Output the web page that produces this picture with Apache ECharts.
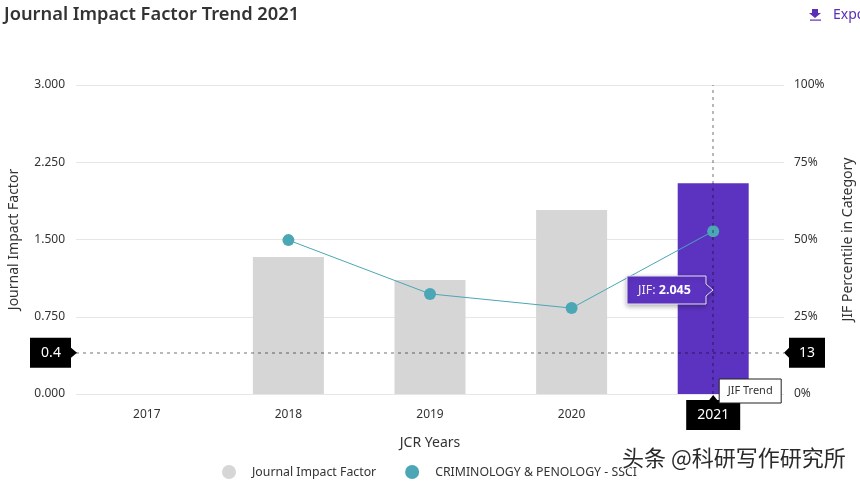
<!DOCTYPE html>
<html><head><meta charset="utf-8">
<style>html,body{margin:0;padding:0;background:#fff;overflow:hidden}#c{width:860px;height:483px}</style>
<script src="https://cdn.jsdelivr.net/npm/echarts@6/dist/echarts.min.js"></script>
</head><body><div id="c"></div>
<script>
const titleText = 'Journal Impact Factor Trend 2021';
const years = ['2017','2018','2019','2020','2021'];
const jifValues = [null,1.33,1.107,1.786,2.045];
const percentileValues = [null,49.8,32.4,27.8,52.7];
const jifTicks = ['0.000','0.750','1.500','2.250','3.000'];
const legendNames = ['Journal Impact Factor','CRIMINOLOGY & PENOLOGY - SSCI'];
const medianJif = 0.4;
const medianPercentile = 13;
const selectedYear = '2021';
const selectedJif = 2.045;
const F = '"Noto Sans", sans-serif';
const GREY='#d6d6d6', PURPLE='#5c33c0', TEAL='#4ba6b5', INK='#333';
const chart = echarts.init(document.getElementById('c'), null, {renderer:'canvas'});
const dashed = {color:'rgba(0,0,0,0.28)',type:[3,4],width:2};
chart.setOption({
  animation:false,
  textStyle:{fontFamily:F},
  title:{text:titleText,left:4,top:6,padding:0,textStyle:{fontFamily:F,fontSize:18.3,fontWeight:600,color:INK}},
  grid:{left:76,right:76,top:85,bottom:89,outerBoundsMode:'none',containLabel:false},
  legend:{
    data:legendNames.map(n=>({name:n,icon:'circle'})),
    left:222,top:465,itemWidth:14,itemHeight:14,itemGap:29,padding:0,
    textStyle:{fontFamily:F,fontSize:12.3,color:INK,padding:[0,0,0,11]}
  },
  xAxis:{type:'category',data:years,
    axisLine:{show:false},axisTick:{show:false},
    axisLabel:{color:INK,fontSize:12,margin:15},
    name:'JCR Years',nameLocation:'middle',nameGap:42,nameTextStyle:{color:INK,fontSize:14}},
  yAxis:[
    {type:'value',min:0,max:3,interval:0.75,
     axisLabel:{color:INK,fontSize:12,margin:11,padding:[4,0,0,0],formatter:v=>jifTicks[Math.round(v/0.75)]},
     axisLine:{show:false},axisTick:{show:false},
     splitLine:{lineStyle:{color:'#e6e6e6',width:1}},
     name:'Journal Impact Factor',nameLocation:'middle',nameGap:55,nameTextStyle:{color:INK,fontSize:14}},
    {type:'value',min:0,max:100,interval:25,position:'right',
     axisLabel:{color:INK,fontSize:12,margin:10,padding:[4,0,0,0],formatter:'{value}%'},
     axisLine:{show:false},axisTick:{show:false},splitLine:{show:false},
     name:'JIF Percentile in Category',nameLocation:'middle',nameGap:57,nameTextStyle:{color:INK,fontSize:14}}
  ],
  series:[
    {name:legendNames[0],type:'bar',barWidth:71,yAxisIndex:0,
     itemStyle:{color:GREY},
     data:jifValues.map((v,i)=>years[i]===selectedYear?{value:v,itemStyle:{color:PURPLE}}:v),
     markLine:{silent:true,symbol:'none',label:{show:false},lineStyle:dashed,z:5,
       data:[{yAxis:medianJif},{xAxis:selectedYear}]}},
    {name:legendNames[1],type:'line',yAxisIndex:1,connectNulls:false,
     symbol:'circle',symbolSize:12,showSymbol:true,
     itemStyle:{color:TEAL},lineStyle:{color:TEAL,width:1},data:percentileValues,z:4}
  ]
});
function draw(){
  const yPx=chart.convertToPixel({yAxisIndex:0},medianJif);
  const xPx=chart.convertToPixel({xAxisIndex:0},selectedYear);
  const base=chart.convertToPixel({yAxisIndex:0},0);
  const jPx=base-104;
  const black=(shape)=>({type:'polygon',shape:{points:shape},style:{fill:'#000'},z:20});
  const label=(t,x,y,size,col,weight)=>({type:'text',x,y,z:21,style:{text:t,fill:col||'#fff',font:(weight||400)+' '+(size||14)+'px '+F,textAlign:'center',textVerticalAlign:'middle'}});
  const els=[
    black([[30,yPx-15],[71,yPx-15],[71,yPx-5],[77,yPx],[71,yPx+5],[71,yPx+15],[30,yPx+15]]),
    label(String(medianJif),51,yPx),
    black([[789,yPx-15],[825,yPx-15],[825,yPx+15],[789,yPx+15],[789,yPx+5],[784,yPx],[789,yPx-5]]),
    label(String(medianPercentile),807,yPx),
    black([[xPx-27,base+6],[xPx-4,base+6],[xPx,base+1],[xPx+4,base+6],[xPx+27,base+6],[xPx+27,base+36],[xPx-27,base+36]]),
    label(selectedYear,xPx,base+21),
    {type:'rect',shape:{x:xPx+6,y:base-15,width:62,height:24},style:{fill:'#fff',stroke:'#222',lineWidth:1},z:22},
    {type:'text',x:xPx+37,y:base-3,z:23,style:{text:'JIF Trend',fill:INK,font:'400 11px '+F,textAlign:'center',textVerticalAlign:'middle'}},
    {type:'polygon',shape:{points:[[627,jPx-14],[706,jPx-14],[706,jPx-6],[713,jPx],[706,jPx+6],[706,jPx+14],[627,jPx+14]]},
     style:{fill:PURPLE,stroke:'#e8e0f8',lineWidth:1,shadowBlur:5,shadowColor:'rgba(0,0,0,0.3)',shadowOffsetY:2},z:24},
    {type:'text',x:638,y:jPx,z:25,style:{rich:{a:{fill:'#eee',font:'400 12.5px '+F},b:{fill:'#fff',font:'700 12.5px '+F}},text:'{a|JIF: }{b|'+selectedJif.toFixed(3)+'}',textVerticalAlign:'middle'}},
    {type:'polygon',shape:{points:[[812,9],[818,9],[818,13],[821,13],[815,18],[809,13],[812,13]]},style:{fill:'#5b2fb5'},z:10},
    {type:'rect',shape:{x:810,y:19.5,width:11,height:1.2},style:{fill:'#5b2fb5'},z:10},
    {type:'text',x:833,y:15,z:10,style:{text:'Export',fill:'#5b2fb5',font:'400 14px '+F,textVerticalAlign:'middle'}},
    {type:'text',x:622,y:458,z:30,style:{text:'头条 @科研写作研究所',fill:'#2a2a2a',stroke:'#fff',lineWidth:2.5,font:'400 22px "Noto Sans CJK SC", sans-serif',textVerticalAlign:'middle'}}
  ];
  chart.setOption({graphic:{elements:els}});
}
draw();
</script></body></html>
